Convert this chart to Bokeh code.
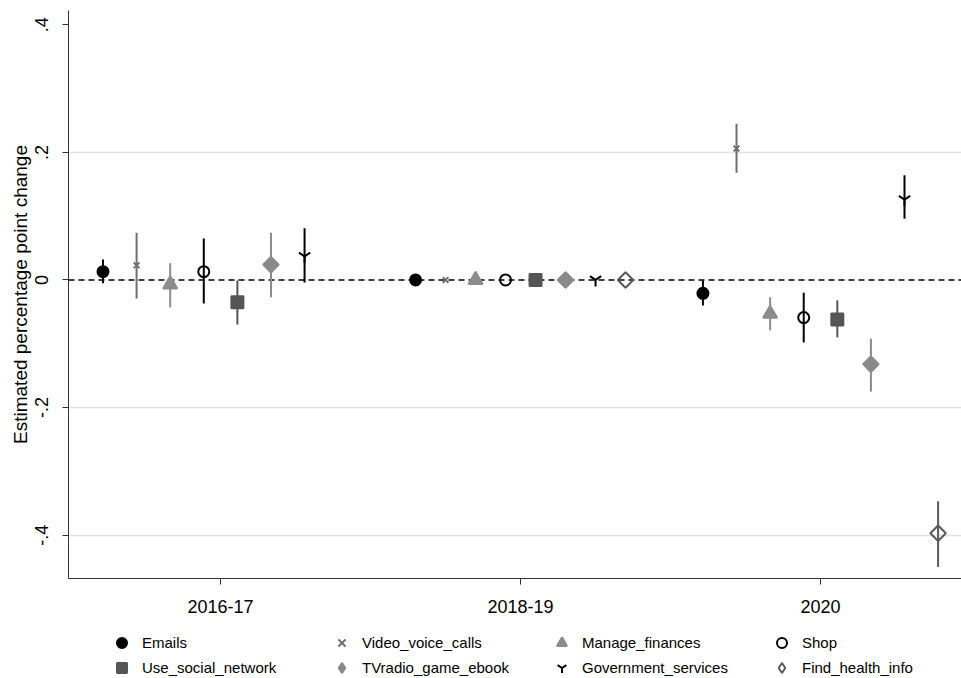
from bokeh.plotting import figure
from bokeh.layouts import column
from bokeh.models import (Range1d, FixedTicker, Legend, LegendItem, Span,
                          ColumnDataSource)
from bokeh.embed import file_html
from bokeh.resources import INLINE

# ---- data -------------------------------------------------------------
periods = ["2016-17", "2018-19", "2020"]
activities = ["Emails", "Video_voice_calls", "Manage_finances", "Shop",
              "Use_social_network", "TVradio_game_ebook",
              "Government_services", "Find_health_info"]

# point estimates (percentage-point change relative to 2018-19)
est_2016 = [0.013, 0.023, -0.007, 0.013, -0.035, 0.024, 0.037, None]
est_2018 = [0.0, 0.0, 0.0, 0.0, 0.0, 0.0, 0.0, 0.0]
est_2020 = [-0.021, 0.206, -0.053, -0.059, -0.062, -0.132, 0.126, -0.397]

# confidence interval bounds (none for the reference period)
lo_2016 = [-0.005, -0.029, -0.043, -0.037, -0.070, -0.027, -0.004, None]
hi_2016 = [0.032, 0.074, 0.026, 0.065, -0.001, 0.074, 0.081, None]
lo_2020 = [-0.040, 0.168, -0.079, -0.098, -0.090, -0.175, 0.096, -0.450]
hi_2020 = [-0.001, 0.245, -0.027, -0.020, -0.032, -0.092, 0.164, -0.347]

y_ticks = [-0.4, -0.2, 0.0, 0.2, 0.4]
y_tick_labels = ["-.4", "-.2", "0", ".2", ".4"]

estimates = [est_2016, est_2018, est_2020]
lowers = [lo_2016, None, lo_2020]
uppers = [hi_2016, None, hi_2020]

# ---- styling ----------------------------------------------------------
slot_step = [0.112, 0.100, 0.112]      # horizontal spacing of series within a period
styles = {
    "Emails":             dict(marker="circle", size=11, fill="#000000", line="#000000", ci="#000000", angle=0.0, key="circle"),
    "Video_voice_calls":  dict(marker="x", size=8, fill=None, line="#6f6f6f", ci="#6f6f6f", angle=0.0, key="x"),
    "Manage_finances":    dict(marker="triangle", size=14, fill="#8c8c8c", line="#8c8c8c", ci="#8c8c8c", angle=0.0, key="triangle"),
    "Shop":               dict(marker="circle", size=11, fill=None, line="#000000", ci="#000000", angle=0.0, key="circle"),
    "Use_social_network": dict(marker="square", size=12, fill="#555555", line="#555555", ci="#555555", angle=0.0, key="square"),
    "TVradio_game_ebook": dict(marker="square", size=11, fill="#8a8a8a", line="#8a8a8a", ci="#8a8a8a", angle=0.785398, key="diamond"),
    "Government_services": dict(marker="y", size=13, fill=None, line="#000000", ci="#000000", angle=0.0, key="y"),
    "Find_health_info":   dict(marker="square", size=11, fill=None, line="#5a5a5a", ci="#5a5a5a", angle=0.785398, key="diamond"),
}
FONT = "Liberation Sans"


def marker_kwargs(st, legend_key=False):
    return dict(marker=st["key"] if legend_key else st["marker"],
                size=st["size"], angle=0.0 if legend_key else st["angle"],
                fill_color=st["fill"] if st["fill"] else "white",
                fill_alpha=1.0 if st["fill"] else 0.0,
                line_color=st["line"], line_width=2)


# ---- main panel -------------------------------------------------------
p = figure(width=961, height=621, output_backend="svg", toolbar_location=None,
           x_range=Range1d(-0.507, 2.47), y_range=Range1d(-0.468, 0.4224),
           min_border_left=68, min_border_right=0, min_border_top=10,
           min_border_bottom=43)
p.outline_line_color = None
p.background_fill_color = "white"
p.border_fill_color = "white"

# grid: horizontal lines only, none at the axis ends or at zero
p.xgrid.visible = False
p.ygrid.ticker = FixedTicker(ticks=[-0.4, -0.2, 0.2])
p.ygrid.grid_line_color = "#e4e4e4"
p.ygrid.grid_line_width = 1.5

# zero reference line
p.add_layout(Span(location=0, dimension="width", line_color="#000000",
                  line_width=1.5, line_dash="6 4", level="underlay"))

# axes
p.xaxis.ticker = FixedTicker(ticks=[0, 1, 2])
p.xaxis.major_label_overrides = {i: lab for i, lab in enumerate(periods)}
p.xaxis.minor_tick_line_color = None
p.xaxis.major_tick_out = 6
p.xaxis.major_tick_in = 0
p.xaxis.major_label_standoff = 15
p.xaxis.major_label_text_font = FONT
p.xaxis.major_label_text_font_size = "18px"
p.xaxis.major_label_text_color = "#000000"
p.xaxis.axis_line_color = "#333333"
p.xaxis.major_tick_line_color = "#333333"

p.yaxis.ticker = FixedTicker(ticks=y_ticks)
p.yaxis.major_label_overrides = {t: lab for t, lab in zip(y_ticks, y_tick_labels)}
p.yaxis.minor_tick_line_color = None
p.yaxis.major_tick_out = 6
p.yaxis.major_tick_in = 0
p.yaxis.major_label_orientation = "vertical"
p.yaxis.major_label_standoff = 14
p.yaxis.major_label_text_font = FONT
p.yaxis.major_label_text_font_size = "18px"
p.yaxis.major_label_text_color = "#000000"
p.yaxis.axis_line_color = "#333333"
p.yaxis.major_tick_line_color = "#333333"
p.yaxis.axis_label = "Estimated percentage point change"
p.yaxis.axis_label_text_font = FONT
p.yaxis.axis_label_text_font_size = "19px"
p.yaxis.axis_label_text_font_style = "normal"
p.yaxis.axis_label_text_color = "#000000"
p.yaxis.axis_label_standoff = 2

# ---- series -----------------------------------------------------------
for k, name in enumerate(activities):
    st = styles[name]
    xs, ys, seg_x, seg_lo, seg_hi = [], [], [], [], []
    for g in range(len(periods)):
        val = estimates[g][k]
        if val is None:
            continue
        x = g + (k - 3.5) * slot_step[g]
        xs.append(x)
        ys.append(val)
        if lowers[g] is not None and lowers[g][k] is not None:
            seg_x.append(x)
            seg_lo.append(lowers[g][k])
            seg_hi.append(uppers[g][k])
    if seg_x:
        p.segment(x0=seg_x, y0=seg_lo, x1=seg_x, y1=seg_hi,
                  line_color=st["ci"], line_width=2)
    p.scatter("x", "y", source=ColumnDataSource(dict(x=xs, y=ys)),
              **marker_kwargs(st))

# ---- legend strip -----------------------------------------------------
# The strip's frame is aligned with the main frame by the column layout.
leg = figure(width=961, height=57, output_backend="svg", toolbar_location=None,
             x_range=Range1d(0, 1), y_range=Range1d(0, 1),
             x_axis_type=None, y_axis_type=None,
             min_border_left=68, min_border_right=0, min_border_top=0,
             min_border_bottom=0)
leg.outline_line_color = None
leg.xgrid.visible = False
leg.ygrid.visible = False

# one swatch renderer per series, anchored outside the visible range
swatches = {}
for name in activities:
    swatches[name] = leg.scatter(x=[-1.0], y=[-1.0],
                                 **marker_kwargs(styles[name], legend_key=True))

# entries fill the grid column by column: two rows of four
n_rows = 2
n_cols = 4
order = [activities[r * n_cols + c] for c in range(n_cols) for r in range(n_rows)]
legend_items = [LegendItem(label=name, renderers=[swatches[name]]) for name in order]

legend = Legend(items=legend_items, ncols=n_cols, location=(41, -2),
                glyph_width=25, glyph_height=25, label_standoff=8,
                label_width=187, label_height=20, spacing=0, padding=0,
                margin=0, border_line_color=None, background_fill_alpha=0.0,
                label_text_font=FONT, label_text_font_size="15px",
                label_text_color="#000000")
leg.add_layout(legend, "center")

open("out.html", "w").write(file_html(column(p, leg, spacing=0), INLINE))
